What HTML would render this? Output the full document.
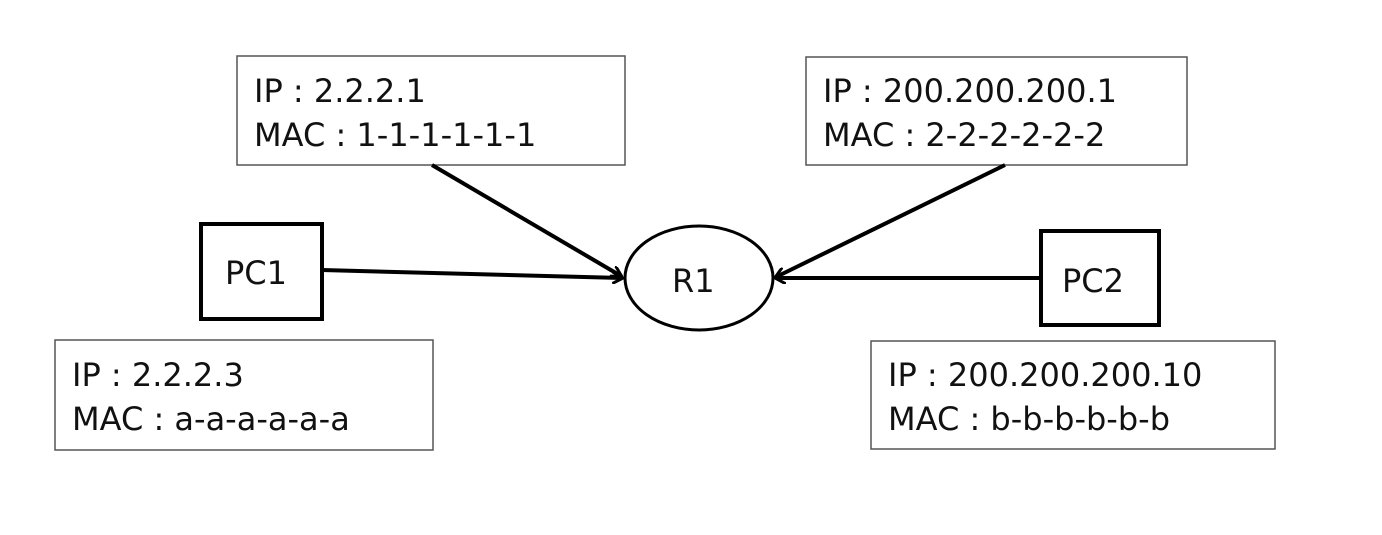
<!DOCTYPE html>
<html><head><style>
body{margin:0;background:#fff;}
svg text{font-family:"DejaVu Sans","Liberation Sans",sans-serif;fill:#111;}
</style></head><body>
<svg width="1382" height="530" viewBox="0 0 1382 530" xmlns="http://www.w3.org/2000/svg">
<defs><marker id="a" markerWidth="12" markerHeight="12" refX="10" refY="6" orient="auto" markerUnits="userSpaceOnUse"><path d="M0,0 L11,6 L0,12" fill="none" stroke="#000" stroke-width="3"/></marker></defs>
<g fill="#fff" stroke="#555" stroke-width="1.5">
<rect x="237" y="56" width="388" height="109"/>
<rect x="806" y="57" width="381" height="108"/>
<rect x="55" y="340" width="378" height="110"/>
<rect x="871" y="341" width="404" height="108"/>
</g>
<g fill="#fff" stroke="#000" stroke-width="4">
<rect x="201" y="224" width="121" height="95"/>
<rect x="1041" y="231" width="118" height="94"/>
<ellipse cx="699" cy="278" rx="74" ry="52" stroke-width="3"/>
</g>
<g stroke="#000" stroke-width="4" fill="none">
<line x1="322" y1="270" x2="622" y2="278" marker-end="url(#a)"/>
<line x1="432" y1="165" x2="621" y2="276" marker-end="url(#a)"/>
<line x1="1005" y1="165" x2="776" y2="277" marker-end="url(#a)"/>
<line x1="1041" y1="278" x2="776" y2="278" marker-end="url(#a)"/>
</g>
<g font-size="32">
<text x="254" y="102">IP : 2.2.2.1</text>
<text x="254" y="146">MAC : 1-1-1-1-1-1</text>
<text x="823" y="102">IP : 200.200.200.1</text>
<text x="823" y="146">MAC : 2-2-2-2-2-2</text>
<text x="72" y="386">IP : 2.2.2.3</text>
<text x="72" y="430">MAC : a-a-a-a-a-a</text>
<text x="888" y="386">IP : 200.200.200.10</text>
<text x="888" y="430">MAC : b-b-b-b-b-b</text>
<text x="225" y="284">PC1</text>
<text x="1062" y="292">PC2</text>
<text x="672" y="292">R1</text>
</g>
</svg>
</body></html>
